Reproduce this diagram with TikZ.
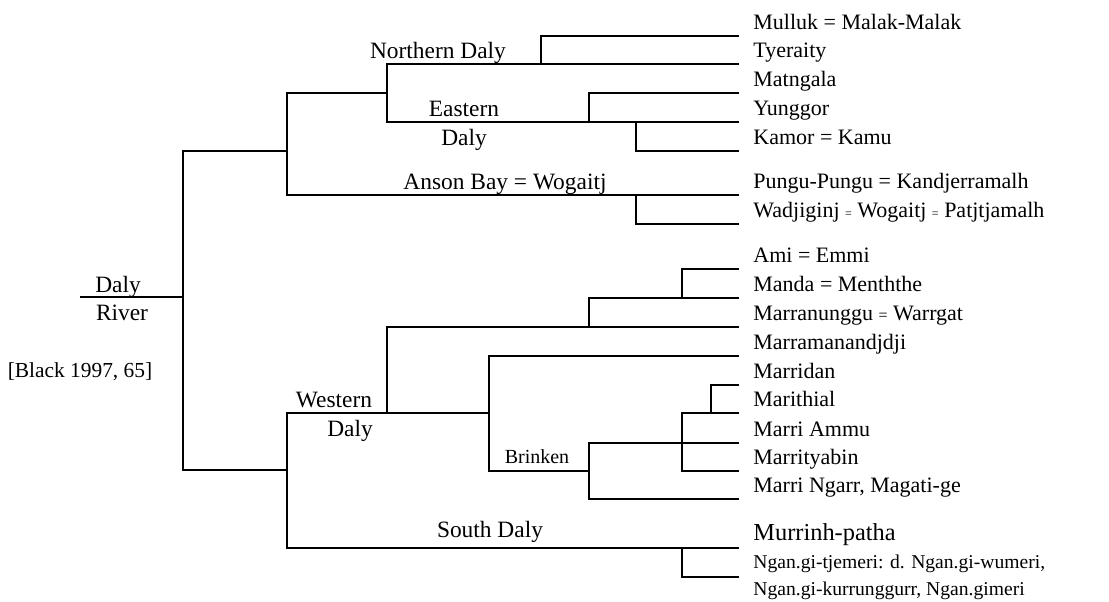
\documentclass[tikz,border=0pt]{standalone}
\usepackage{fontspec}
\setmainfont{Liberation Serif}
\tikzset{branch/.style={line width=0.85pt},
  leaf/.style={anchor=base west, inner sep=0pt, font=\fontsize{11}{13}\selectfont},
  group/.style={anchor=base, inner sep=0pt, font=\fontsize{11.7}{14}\selectfont}}
\newcommand{\smalleq}{{\fontsize{6}{6}\selectfont =}}

\begin{document}
\begin{tikzpicture}[x=0.5pt, y=-0.5pt]
  \useasboundingbox (0,0) rectangle (1109,601);
  % ends of the leaf lines
  \coordinate (mul) at (739,36); \coordinate (tye) at (739,64); \coordinate (mat) at (739,93);
  \coordinate (yun) at (739,122); \coordinate (kam) at (739,151); \coordinate (pun) at (739,195);
  \coordinate (wad) at (739,224); \coordinate (ami) at (739,269); \coordinate (man) at (739,298);
  \coordinate (mrg) at (739,327); \coordinate (mmj) at (739,356); \coordinate (mrd) at (739,385);
  \coordinate (mth) at (739,413); \coordinate (mam) at (739,443); \coordinate (mty) at (739,471);
  \coordinate (mng) at (739,499); \coordinate (mur) at (739,548); \coordinate (ngt) at (739,577);
  % branch points
  \coordinate (root) at (80,297); \coordinate (dr) at (183,297);
  \coordinate (up) at (287,151); \coordinate (lo) at (287,470);
  \coordinate (nde) at (387,93); \coordinate (nd) at (541,64);
  \coordinate (ed) at (589,122); \coordinate (km) at (636,122); \coordinate (ab) at (636,195);
  \coordinate (wdj) at (489,413); \coordinate (wa) at (387,413);
  \coordinate (wb) at (589,327); \coordinate (wc) at (682,298);
  \coordinate (bk) at (589,471); \coordinate (bm) at (682,443); \coordinate (bn) at (711,413);
  \coordinate (sd) at (682,548);

  \draw[branch] (root) -- (dr) (up) -| (dr) |- (lo);
  \draw[branch] (nde) -| (up) |- (pun);
  \draw[branch] (nd) -| (nde) |- (yun);
  \draw[branch] (mul) -| (nd) -- (tye);
  \draw[branch] (mat) -| (ed);
  \draw[branch] (km) |- (kam);
  \draw[branch] (ab) |- (wad);
  \draw[branch] (wdj) -| (lo) |- (mur);
  \draw[branch] (wa) |- (mrg);
  \draw[branch] (wb) |- (man);
  \draw[branch] (wc) |- (ami);
  \draw[branch] (mmj) -| (wdj) |- (bk);
  \draw[branch] (mam) -| (bk) |- (mng);
  \draw[branch] (mth) -| (bm) |- (mty);
  \draw[branch] (bn) |- (mrd);
  \draw[branch] (sd) |- (ngt);

  % group labels
  \node[group] (daly) at (118,292) {Daly};
  \node[group] (river) at (122,320) {River};
  \node[group, font=\fontsize{10.7}{13}\selectfont] (black) at (80,377) {[Black 1997, 65]};
  \node[group] (north) at (438,58) {Northern Daly};
  \node[group] (east) at (464,116) {Eastern};
  \node[group] (eastd) at (464,145) {Daly};
  \node[group] (anson) at (505,189) {Anson Bay = Wogaitj};
  \node[group] (west) at (334,407) {Western};
  \node[group] (westd) at (350,436) {Daly};
  \node[group, font=\fontsize{10}{12}\selectfont] (brinken) at (537,463) {Brinken};
  \node[group] (south) at (490,537) {South Daly};

  % language names
  \node[leaf] (lmul) at (753,29) {Mulluk = Malak-Malak};
  \node[leaf] (ltye) at (753,57) {Tyeraity};
  \node[leaf] (lmat) at (753,86) {Matngala};
  \node[leaf] (lyun) at (753,115) {Yunggor};
  \node[leaf] (lkam) at (753,144) {Kamor = Kamu};
  \node[leaf] (lpun) at (753,188) {Pungu-Pungu = Kandjerramalh};
  \node[leaf] (lwad) at (753,217) {Wadjiginj \smalleq{} Wogaitj \smalleq{} Patjtjamalh};
  \node[leaf] (lami) at (753,262) {Ami = Emmi};
  \node[leaf] (lman) at (753,291) {Manda = Menththe};
  \node[leaf] (lmrg) at (753,320) {Marranunggu {\fontsize{8}{8}\selectfont =} Warrgat};
  \node[leaf] (lmmj) at (753,349) {Marramanandjdji};
  \node[leaf] (lmrd) at (753,378) {Marridan};
  \node[leaf] (lmth) at (753,406) {Marithial};
  \node[leaf] (lmam) at (753,436) {Marri Ammu};
  \node[leaf] (lmty) at (753,464) {Marrityabin};
  \node[leaf] (lmng) at (753,492) {Marri Ngarr, Magati-ge};
  \node[leaf, font=\fontsize{12.2}{14}\selectfont] (lmur) at (753,540) {Murrinh-patha};
  \node[leaf, font=\fontsize{9.8}{12}\selectfont] (lngt) at (753,568) {Ngan.gi-tjemeri: d. Ngan.gi-wumeri,};
  \node[leaf, font=\fontsize{9.8}{12}\selectfont] (lngk) at (753,595) {Ngan.gi-kurrunggurr, Ngan.gimeri};
\end{tikzpicture}
\end{document}
